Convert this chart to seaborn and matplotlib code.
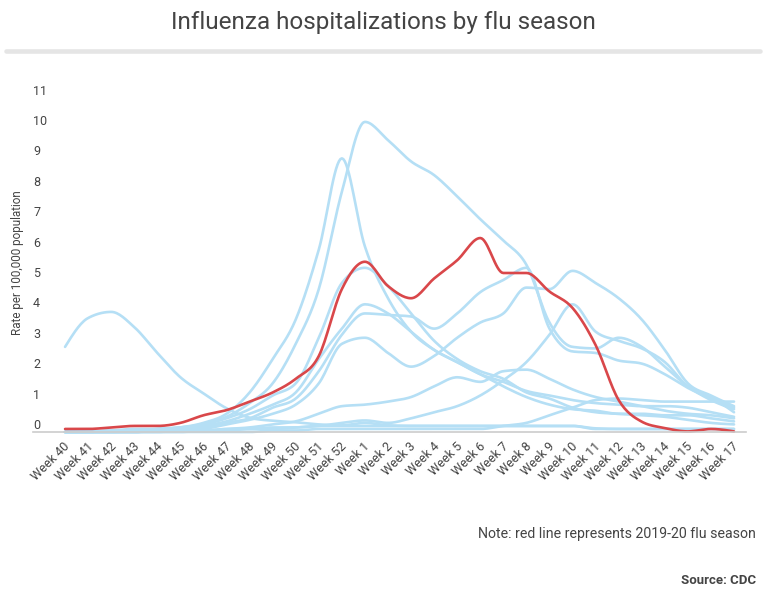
import numpy as np
import pandas as pd
import seaborn as sns
import matplotlib.pyplot as plt
from matplotlib.transforms import ScaledTranslation

# Weekly hospitalization rates
weeks = ["Week %d" % w for w in range(40, 53)] + ["Week %d" % w for w in range(1, 18)]

season_2019_20 = [0.1, 0.1, 0.15, 0.2, 0.2, 0.3, 0.55, 0.72, 1.0, 1.3, 1.75, 2.5, 4.7, 5.6, 4.8,
                  4.4, 5.05, 5.65, 6.38, 5.23, 5.23, 4.62, 4.08, 2.86, 1.05, 0.34, 0.13, 0.02, 0.1, 0.02]

past_seasons = {
    "s01": [2.8, 3.75, 3.95, 3.45, 2.6, 1.8, 1.27, 0.78, 0.47, 0.37, 0.32, 0.25, 0.22, 0.3, 0.22,
            0.2, 0.2, 0.2, 0.2, 0.2, 0.2, 0.2, 0.2, 0.12, 0.1, 0.1, 0.1, 0.1, 0.1, 0.1],
    "s02": [0.0, 0.0, 0.05, 0.05, 0.1, 0.15, 0.25, 0.5, 0.95, 1.6, 2.9, 4.7, 7.9, 10.2, 9.6,
            8.9, 8.45, 7.75, 7.0, 6.3, 5.5, 3.6, 2.8, 2.75, 3.1, 2.8, 2.15, 1.5, 1.05, 0.75],
    "s03": [0.0, 0.0, 0.05, 0.05, 0.1, 0.15, 0.3, 0.6, 1.3, 2.4, 3.7, 6.0, 9.0, 6.1, 4.4,
            3.3, 2.7, 2.3, 1.9, 1.65, 1.35, 1.2, 1.05, 0.95, 0.9, 0.85, 0.85, 0.8, 0.65, 0.5],
    "s04": [0.0, 0.0, 0.05, 0.1, 0.1, 0.15, 0.25, 0.45, 0.75, 1.2, 1.6, 3.1, 4.9, 5.4, 4.8,
            3.9, 3.0, 2.4, 2.0, 1.75, 1.3, 1.1, 0.8, 0.65, 0.6, 0.55, 0.5, 0.4, 0.3, 0.25],
    "s05": [0.0, 0.0, 0.0, 0.05, 0.05, 0.1, 0.2, 0.35, 0.6, 0.9, 1.3, 2.4, 3.4, 4.2, 3.9,
            3.3, 2.7, 2.3, 1.9, 1.5, 1.15, 0.9, 0.75, 0.7, 0.6, 0.6, 0.55, 0.55, 0.45, 0.35],
    "s06": [0.0, 0.0, 0.0, 0.0, 0.05, 0.1, 0.15, 0.3, 0.45, 0.8, 1.1, 2.0, 3.2, 3.9, 3.85,
            3.8, 3.4, 3.9, 4.6, 5.0, 5.4, 3.4, 2.65, 2.6, 2.35, 2.25, 1.9, 1.45, 1.1, 0.8],
    "s07": [0.0, 0.0, 0.0, 0.0, 0.05, 0.05, 0.1, 0.25, 0.4, 0.6, 0.9, 1.6, 2.9, 3.1, 2.6,
            2.15, 2.5, 3.1, 3.6, 3.9, 4.75, 4.7, 5.3, 4.9, 4.4, 3.7, 2.7, 1.6, 1.2, 0.85],
    "s08": [0.0, 0.0, 0.0, 0.0, 0.0, 0.05, 0.05, 0.1, 0.15, 0.25, 0.35, 0.6, 0.85, 0.9, 1.0,
            1.15, 1.5, 1.8, 1.65, 2.0, 2.05, 1.75, 1.4, 1.15, 1.0, 0.85, 0.7, 0.6, 0.55, 0.45],
    "s09": [0.0, 0.0, 0.0, 0.0, 0.0, 0.0, 0.05, 0.05, 0.1, 0.1, 0.15, 0.2, 0.3, 0.38, 0.3,
            0.45, 0.65, 0.85, 1.2, 1.7, 2.3, 3.2, 4.2, 3.3, 3.0, 2.75, 2.3, 1.5, 1.15, 0.65],
    "s10": [0.0, 0.0, 0.0, 0.0, 0.0, 0.0, 0.0, 0.0, 0.0, 0.05, 0.05, 0.1, 0.1, 0.1, 0.1,
            0.1, 0.1, 0.1, 0.1, 0.2, 0.3, 0.55, 0.8, 1.05, 1.1, 1.05, 1.0, 1.0, 1.0, 1.0],
    "s11": [0.0, 0.0, 0.0, 0.0, 0.05, 0.05, 0.05, 0.1, 0.1, 0.15, 0.15, 0.2, 0.2, 0.2, 0.2,
            0.2, 0.2, 0.2, 0.2, 0.2, 0.2, 0.2, 0.2, 0.1, 0.1, 0.1, 0.1, 0.1, 0.1, 0.1],
}

BLUE = "#b5dff5"
RED = "#d9474a"
TEXT = "#444444"


def smooth(ys, n=16):
    # monotone cubic curve through the weekly points (like d3 curveMonotoneX)
    y = np.asarray(ys, float)
    x = np.arange(len(y), dtype=float)
    s = np.diff(y)
    t = np.zeros_like(y)
    for i in range(1, len(y) - 1):
        s0, s1 = s[i - 1], s[i]
        p = (s0 + s1) / 2
        t[i] = (np.sign(s0) + np.sign(s1)) * min(abs(s0), abs(s1), 0.5 * abs(p))
    t[0] = (3 * s[0] - t[1]) / 2
    t[-1] = (3 * s[-1] - t[-2]) / 2
    xs, out = [], []
    u = np.linspace(0, 1, n, endpoint=False)
    for i in range(len(y) - 1):
        h00 = 2 * u**3 - 3 * u**2 + 1
        h10 = u**3 - 2 * u**2 + u
        h01 = -2 * u**3 + 3 * u**2
        h11 = u**3 - u**2
        out.append(h00 * y[i] + h10 * t[i] + h01 * y[i + 1] + h11 * t[i + 1])
        xs.append(x[i] + u)
    xs.append([x[-1]])
    out.append([y[-1]])
    return np.concatenate(xs), np.concatenate(out)


rows = []
for name, vals in past_seasons.items():
    xs, ys = smooth(vals)
    rows.append(pd.DataFrame({"week": xs, "rate": ys, "season": name}))
df_past = pd.concat(rows, ignore_index=True)
xs, ys = smooth(season_2019_20)
df_now = pd.DataFrame({"week": xs, "rate": ys, "season": "2019-20"})

sns.set_style("white")
plt.rcParams["font.family"] = ["Roboto", "DejaVu Sans"]

fig = plt.figure(figsize=(7.66, 5.95), dpi=100)
W, H = 766, 595
ax = fig.add_axes([33 / W, (H - 432) / H, (746 - 33) / W, (432 - 91.5) / H])

sns.lineplot(data=df_past, x="week", y="rate", units="season", estimator=None,
             color=BLUE, linewidth=1.9, sort=False, ax=ax)
sns.lineplot(data=df_now, x="week", y="rate", color=RED, linewidth=1.9,
             sort=False, ax=ax)
for line in ax.lines:
    line.set_clip_on(False)

ax.set_xlim(-1.39, 29.52)
ax.set_ylim(0, 11.2)
ax.set_xlabel("")
ax.set_ylabel("")

ax.set_xticks(range(len(weeks)))
ax.set_xticklabels(weeks, rotation=45, ha="right", va="center", rotation_mode="anchor")
ax.tick_params(axis="x", length=0, pad=9, labelsize=9, labelcolor=TEXT)
shift = ScaledTranslation(3 / 100, 0, fig.dpi_scale_trans)
for lab in ax.get_xticklabels():
    lab.set_transform(lab.get_transform() + shift)

ax.set_yticks(range(12))
ax.set_yticklabels([str(v) for v in range(12)])
ax.tick_params(axis="y", length=0, pad=0, labelsize=9, labelcolor=TEXT)
for lab in ax.get_yticklabels():
    lab.set_horizontalalignment("left")
    lab.set_verticalalignment("bottom")

sns.despine(ax=ax, left=True)
ax.spines["bottom"].set_color("#cccccc")
ax.spines["bottom"].set_linewidth(1.2)

fig.text(18 / W, 1 - 263 / H, "Rate per 100,000 population", rotation=90,
         ha="center", va="center", fontsize=8.4, color=TEXT)

fig.text(0.5, 1 - 23 / H, "Influenza hospitalizations by flu season",
         ha="center", va="center", fontsize=17.5, color="#444444")
fig.add_artist(plt.Line2D([6 / W, 760 / W], [1 - 50.5 / H, 1 - 50.5 / H],
                          color="#e5e5e5", linewidth=3.3))

fig.text(756 / W, 1 - 534 / H, "Note: red line represents 2019-20 flu season",
         ha="right", va="center", fontsize=10.2, color=TEXT)
fig.text(756 / W, 1 - 581 / H, "Source: CDC", ha="right", va="center",
         fontsize=9.5, fontweight="bold", color=TEXT)

fig.savefig("out.png", dpi=100)
